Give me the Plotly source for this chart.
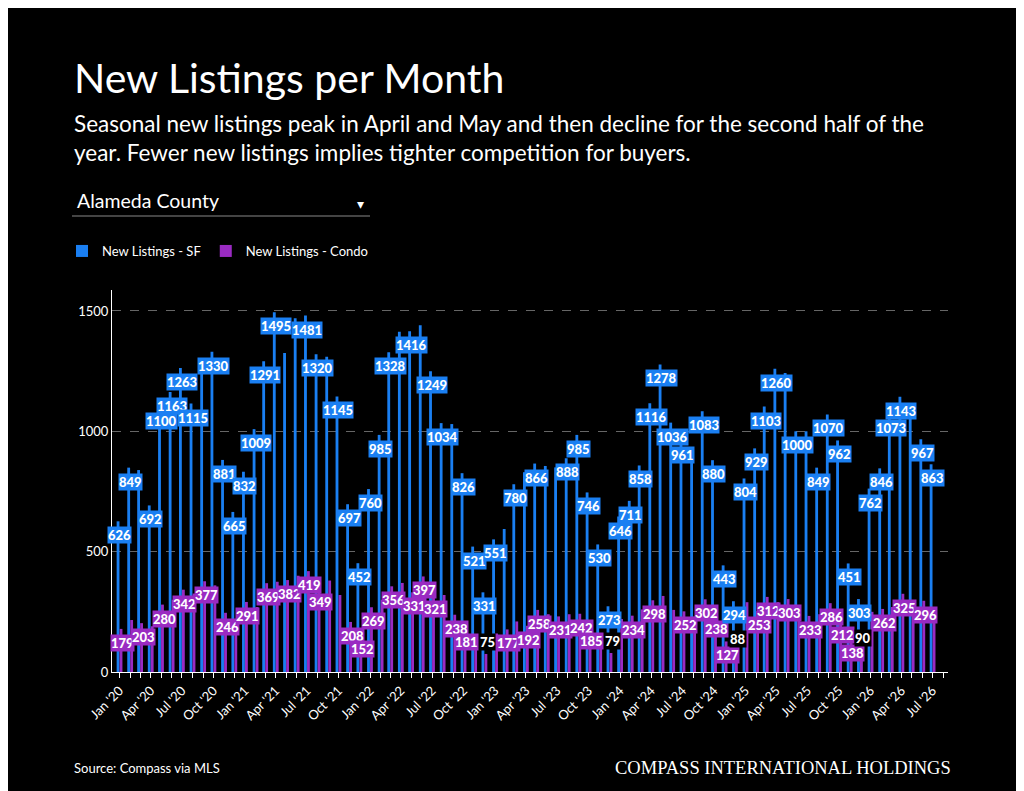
import plotly.graph_objects as go
import pandas as pd

months = pd.date_range("2020-01-01", "2026-07-01", freq="MS").strftime("%Y-%m-%d").tolist()
sf = [626,849,839,692,1100,1163,1263,1115,1268,1330,881,665,
      832,1009,1291,1495,1325,1470,1481,1320,1310,1145,697,452,
      760,985,1328,1414,1416,1441,1249,1034,1030,826,521,331,
      551,594,780,830,866,856,850,888,985,746,530,273,
      646,711,858,1116,1278,1036,961,926,1083,880,443,294,
      804,929,1103,1260,1242,1000,1000,849,1070,962,451,303,
      762,846,1073,1143,1105,967,863]
condo = [179,216,203,190,280,300,342,326,377,360,246,215,
         291,270,369,375,382,400,419,349,380,320,208,152,
         269,300,356,370,331,397,321,320,238,181,150,75,
         160,177,210,192,258,240,231,240,242,185,150,79,
         220,234,260,298,316,258,252,230,302,238,127,88,
         290,253,312,290,303,230,233,240,286,212,138,90,
         250,262,270,325,290,296,260]
sf_unlabeled = {2,8,16,17,20,27,29,32,37,39,41,42,55,64,66,76}
condo_labeled = {0,2,4,6,8,10,12,14,16,18,19,22,23,24,26,28,29,30,32,33,35,37,39,40,42,44,45,47,
                 49,51,54,56,57,58,59,61,62,64,66,68,69,70,71,73,75,77}

BLUE = "#1a7ff2"
PURPLE = "#9a2bc2"
fig = go.Figure()
fig.add_bar(x=months, y=sf, name="New Listings - SF", marker_color=BLUE, marker_line_width=0)
fig.add_bar(x=months, y=condo, name="New Listings - Condo", marker_color=PURPLE, marker_line_width=0)

LF = dict(color="white", size=13, family="Lato Black, Lato")
anns = []
for i, m in enumerate(months):
    if i not in sf_unlabeled:
        anns.append(dict(x=m, y=sf[i], xref="x", yref="y", text=str(sf[i]), showarrow=False,
                         yshift=-14, font=LF, bgcolor=BLUE, borderpad=0))
    if i in condo_labeled:
        small = condo[i] < 100
        anns.append(dict(x=m, y=condo[i], xref="x", yref="y", text=str(condo[i]), showarrow=False,
                         yshift=-14 if not small else 12, xshift=3, font=LF,
                         bgcolor="black" if small else PURPLE, borderpad=0))

def px(x): return (x - 112) / 836
def py(y): return (672 - y) / 382

anns += [
    dict(x=px(72), y=py(77), xref="paper", yref="paper", xanchor="left", yanchor="middle", showarrow=False,
         text="New Listings per Month", font=dict(size=41, color="white", family="Lato")),
    dict(x=px(72), y=py(138), xref="paper", yref="paper", xanchor="left", yanchor="middle", showarrow=False, align="left",
         text="Seasonal new listings peak in April and May and then decline for the second half of the<br>year. Fewer new listings implies tighter competition for buyers.",
         font=dict(size=22.5, color="white", family="Lato")),
    dict(x=px(75), y=py(201), xref="paper", yref="paper", xanchor="left", yanchor="middle", showarrow=False,
         text="Alameda County", font=dict(size=19.5, color="white", family="Lato")),
    dict(x=px(360), y=py(203), xref="paper", yref="paper", xanchor="center", yanchor="middle", showarrow=False,
         text="▾", font=dict(size=14, color="white")),
    dict(x=px(72), y=py(768), xref="paper", yref="paper", xanchor="left", yanchor="middle", showarrow=False,
         text="Source: Compass via MLS", font=dict(size=13, color="white", family="Lato")),
    dict(x=px(953), y=py(768), xref="paper", yref="paper", xanchor="right", yanchor="middle", showarrow=False,
         text="COMPASS INTERNATIONAL HOLDINGS", font=dict(size=18.5, color="white", family="Liberation Serif")),
]

fig.update_layout(
    width=1024, height=791, paper_bgcolor="black", plot_bgcolor="black",
    margin=dict(l=104, r=84, t=282, b=127),
    barmode="group", bargap=0.38, bargroupgap=0.05,
    font=dict(family="Lato", color="white"),
    showlegend=True,
    legend=dict(orientation="h", x=px(62), y=py(251), xanchor="left", yanchor="middle",
                font=dict(size=13, color="white"), itemsizing="constant", itemwidth=30,
                bgcolor="rgba(0,0,0,0)", tracegroupgap=0),
    annotations=anns,
    shapes=[dict(type="line", xref="paper", yref="paper", x0=px(72), x1=px(370), y0=py(216), y1=py(216),
                 line=dict(color="#888", width=1))],
    xaxis=dict(type="date", tickformat="%b '%y", dtick="M3", tick0="2020-01-01", tickangle=-45,
               ticks="outside", ticklen=5, tickcolor="white", showgrid=False, showline=True, linecolor="white",
               linewidth=1, tickfont=dict(size=13, color="white"),
               range=["2019-12-10", "2026-08-15"],
               minor=dict(dtick="M1", ticks="outside", ticklen=5, tickcolor="white")),
    yaxis=dict(range=[0, 1587], tickvals=[0, 500, 1000, 1500], showgrid=True, gridcolor="#666",
               griddash="dash", gridwidth=1, showline=True, linecolor="white", zeroline=False,
               tickfont=dict(size=13, color="white")),
)
fig.write_html("out.html")
